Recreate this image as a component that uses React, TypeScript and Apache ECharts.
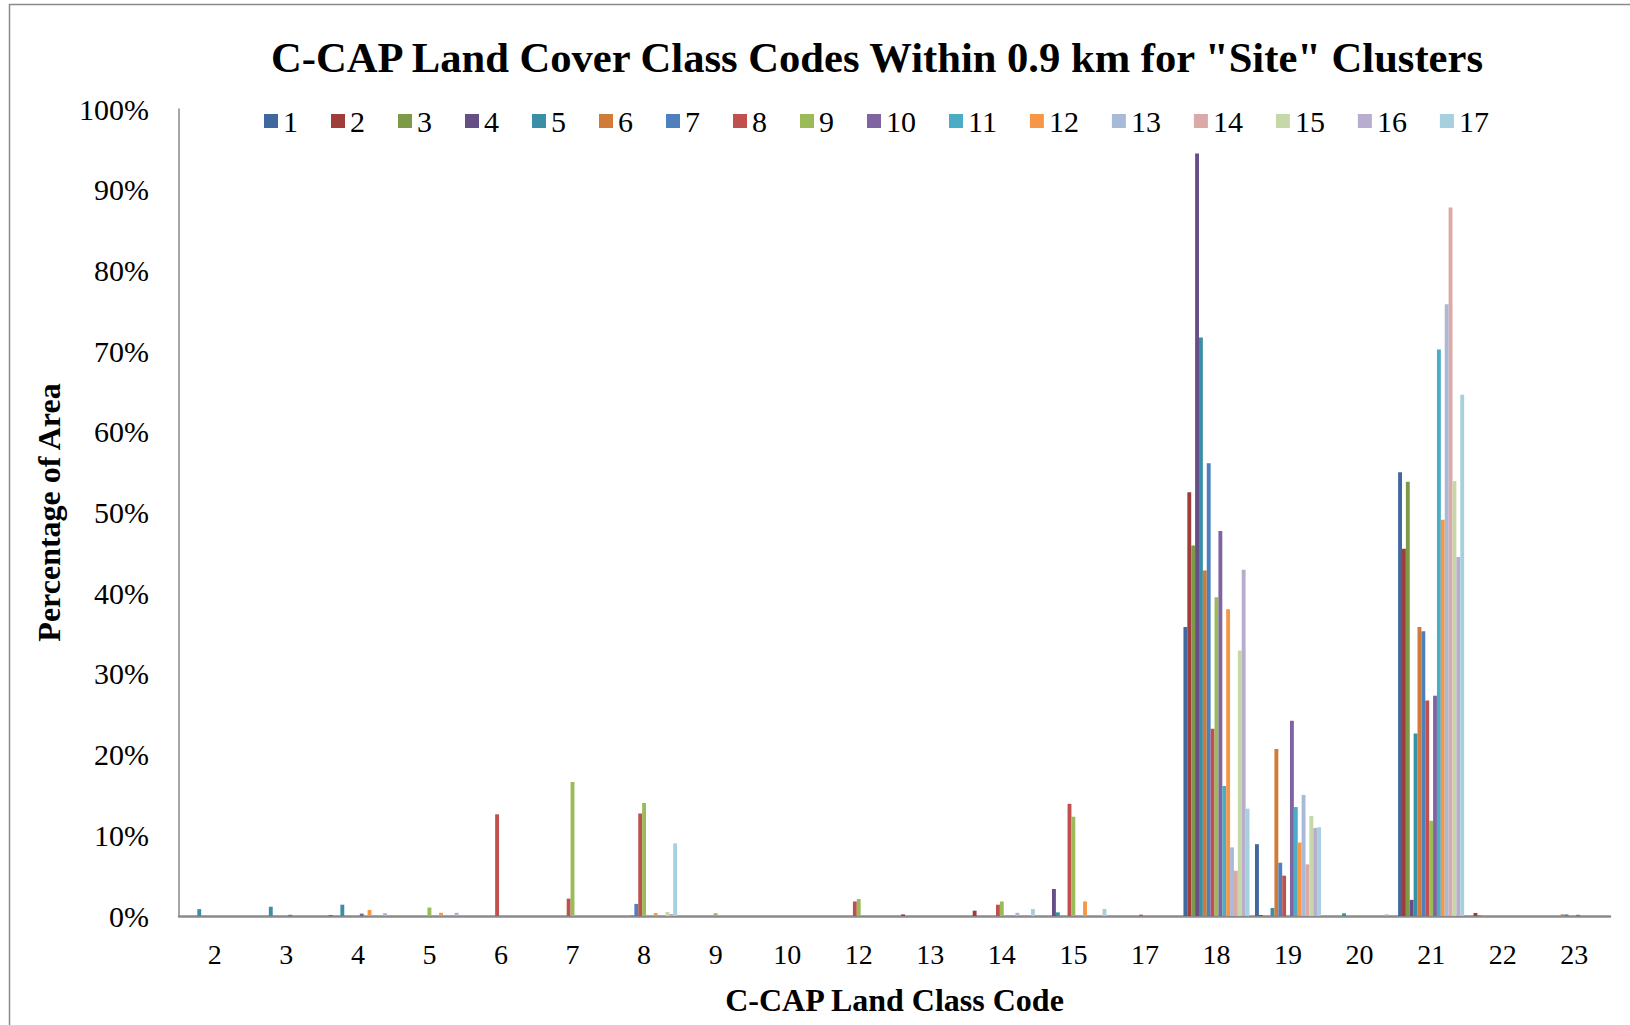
import React, { useEffect, useRef } from "react";
import * as echarts from "echarts";

const categories = ["2", "3", "4", "5", "6", "7", "8", "9", "10", "12", "13", "14", "15", "17", "18", "19", "20", "21", "22", "23"];
const seriesNames = ["1", "2", "3", "4", "5", "6", "7", "8", "9", "10", "11", "12", "13", "14", "15", "16", "17"];
const colors = ["#3F689F", "#9F3D3A", "#7E9A48", "#664F87", "#3A8FA6", "#D07B36", "#4E80BD", "#C0504D", "#9BBB59", "#8064A2", "#4BACC6", "#F79646", "#A9BAD9", "#DAA9A8", "#C6D8A8", "#B8ADCE", "#A6D0DE"];
const yTicks = [0, 10, 20, 30, 40, 50, 60, 70, 80, 90, 100];

//            2     3     4     5     6     7     8     9    10    12    13    14    15    17    18    19    20    21    22    23
const s1 = [0, 0, 0, 0, 0, 0, 0, 0, 0, 0, 0, 0, 0, 0, 35.8, 8.9, 0, 55.0, 0, 0];
const s2 = [0, 0, 0.1, 0, 0, 0, 0, 0, 0, 0, 0.2, 0.66, 0, 0, 52.5, 0.12, 0, 45.5, 0.37, 0];
const s3 = [0, 0, 0, 0, 0, 0, 0, 0, 0, 0, 0, 0, 0, 0, 45.9, 0, 0, 53.8, 0.1, 0];
const s4 = [0, 0, 0, 0, 0, 0, 0, 0, 0, 0, 0, 0, 3.35, 0, 94.5, 0, 0, 2.0, 0, 0];
const s5 = [0.85, 1.15, 1.4, 0, 0, 0, 0, 0, 0, 0, 0, 0, 0.45, 0, 71.7, 1.0, 0.33, 22.6, 0, 0];
const s6 = [0, 0, 0, 0, 0, 0, 0.1, 0, 0, 0, 0, 0, 0, 0, 42.8, 20.7, 0, 35.8, 0, 0.2];
const s7 = [0, 0, 0, 0, 0, 0, 1.5, 0, 0, 0, 0, 0, 0, 0, 56.1, 6.6, 0, 35.3, 0, 0.2];
const s8 = [0, 0, 0, 0, 12.6, 2.15, 12.7, 0, 0, 1.8, 0, 1.4, 13.9, 0.17, 23.2, 5.0, 0, 26.7, 0, 0];
const s9 = [0, 0, 0, 1.05, 0, 16.6, 14.0, 0.35, 0, 2.1, 0, 1.8, 12.3, 0, 39.5, 0, 0, 11.8, 0, 0];
const s10 = [0, 0.15, 0.3, 0, 0, 0, 0, 0, 0, 0, 0, 0, 0, 0, 47.7, 24.2, 0, 27.3, 0, 0.15];
const s11 = [0, 0, 0, 0, 0, 0, 0, 0, 0, 0, 0, 0, 0, 0, 16.1, 13.5, 0, 70.2, 0, 0];
const s12 = [0, 0, 0.75, 0.4, 0, 0, 0.35, 0, 0, 0, 0, 0, 1.8, 0, 38.0, 9.1, 0.05, 49.1, 0, 0];
const s13 = [0, 0, 0, 0, 0, 0, 0, 0, 0, 0, 0, 0.4, 0, 0, 8.5, 15.0, 0, 75.8, 0, 0];
const s14 = [0, 0, 0, 0, 0, 0, 0, 0, 0, 0, 0, 0, 0, 0, 5.6, 6.4, 0, 87.8, 0, 0];
const s15 = [0, 0, 0, 0, 0, 0, 0.5, 0, 0, 0, 0, 0, 0, 0, 32.9, 12.4, 0, 53.9, 0, 0];
const s16 = [0, 0, 0.35, 0.4, 0, 0, 0.25, 0, 0, 0, 0, 0, 0, 0, 42.9, 10.9, 0.2, 44.5, 0, 0];
const s17 = [0, 0, 0, 0, 0, 0, 9.0, 0, 0, 0, 0, 0.87, 0.87, 0, 13.3, 11.0, 0, 64.6, 0, 0];

const seriesData = [s1, s2, s3, s4, s5, s6, s7, s8, s9, s10, s11, s12, s13, s14, s15, s16, s17];

const FONT = "'Liberation Serif', 'Times New Roman', serif";

export default function App() {
  const ref = useRef<HTMLDivElement>(null);
  useEffect(() => {
    document.body.style.margin = "0";
    const chart = echarts.init(ref.current!, null, { renderer: "svg" });
    chart.setOption({
      animation: false,
      backgroundColor: "#ffffff",
      textStyle: { fontFamily: FONT, color: "#000" },
      graphic: [
        {
          type: "rect",
          shape: { x: 9.5, y: 4.5, width: 1700, height: 1100 },
          style: { fill: "none", stroke: "#8a8a8a", lineWidth: 1.5 },
          silent: true,
        },
        {
          type: "text",
          x: 877,
          y: 57,
          style: {
            text: 'C-CAP Land Cover Class Codes Within 0.9 km for "Site" Clusters',
            font: `bold 42.6px ${FONT}`,
            fill: "#000",
            textAlign: "center",
            textVerticalAlign: "middle",
          },
        },
      ],
      legend: {
        data: seriesNames,
        left: 259,
        top: 101,
        itemWidth: 14,
        itemHeight: 14,
        itemGap: 33,
        icon: "rect",
        textStyle: { fontFamily: FONT, fontSize: 30, color: "#000" },
      },
      grid: { left: 179, right: 20, top: 109, bottom: 109, containLabel: false },
      xAxis: {
        type: "category",
        data: categories,
        name: "C-CAP Land Class Code",
        nameLocation: "middle",
        nameGap: 68,
        nameTextStyle: { fontFamily: FONT, fontSize: 32, fontWeight: "bold", color: "#000" },
        axisLine: { lineStyle: { color: "#8a8a8a", width: 2.5 } },
        axisTick: { show: false },
        axisLabel: { fontFamily: FONT, fontSize: 28, color: "#000", margin: 24 },
      },
      yAxis: {
        type: "value",
        min: yTicks[0],
        max: yTicks[yTicks.length - 1],
        interval: 10,
        name: "Percentage of Area",
        nameLocation: "middle",
        nameRotate: 90,
        nameGap: 114,
        nameTextStyle: { fontFamily: FONT, fontSize: 32, fontWeight: "bold", color: "#000" },
        axisLine: { show: true, lineStyle: { color: "#8a8a8a", width: 1.5 } },
        axisTick: { show: false },
        splitLine: { show: false },
        axisLabel: { fontFamily: FONT, fontSize: 30, color: "#000", margin: 30, formatter: "{value}%" },
      },
      series: seriesNames.map((n, i) => ({
        name: n,
        type: "bar",
        data: seriesData[i],
        barGap: "0%",
        barCategoryGap: "7.7%",
        itemStyle: { color: colors[i] },
      })),
    });
    return () => chart.dispose();
  }, []);
  return <div ref={ref} style={{ width: 1630, height: 1025 }} />;
}
